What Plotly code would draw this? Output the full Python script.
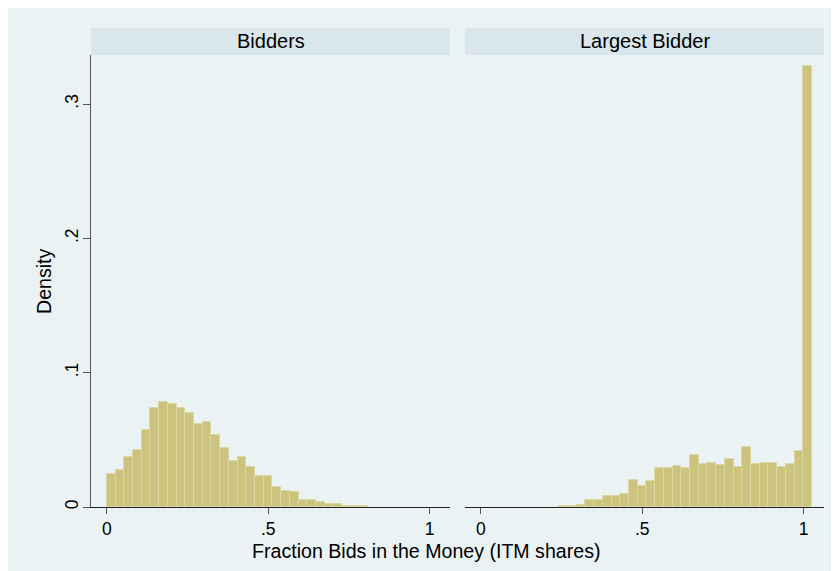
import plotly.graph_objects as go

# ---------------- data ----------------
bin_width = 0.027
bidders = [0.0248, 0.0276, 0.0373, 0.0425, 0.0574, 0.0738, 0.0783, 0.0768, 0.0738, 0.0700,
           0.0615, 0.0633, 0.0536, 0.0440, 0.0345, 0.0372, 0.0300, 0.0231, 0.0231, 0.0149,
           0.0122, 0.0112, 0.0050, 0.0055, 0.0037, 0.0022, 0.0022, 0.0005, 0.0005, 0.0005]
largest = [None, None, None, None, None, None, None, None, None,
           0.0005, 0.0005, 0.0015, 0.0055, 0.0050, 0.0080, 0.0080, 0.0095, 0.0201, 0.0154,
           0.0194, 0.0293, 0.0288, 0.0306, 0.0288, 0.0388, 0.0323, 0.0328, 0.0313, 0.0358,
           0.0298, 0.0447, 0.0323, 0.0330, 0.0330, 0.0300, 0.0323, 0.0417, 0.3280]
panel_titles = ["Bidders", "Largest Bidder"]
x_ticks = [0, 0.5, 1]
x_ticktext = ["0", ".5", "1"]
y_ticks = [0, 0.1, 0.2, 0.3]
y_ticktext = ["0", ".1", ".2", ".3"]
x_title = "Fraction Bids in the Money (ITM shares)"
y_title = "Density"

# ---------------- geometry / style ----------------
# page body has an 8px margin, so the figure sits at (8, 8) in the window
OFF = 8
W, H = 839 - OFF, 571 - OFF
L, R, T, B = 91 - OFF, 15, 55 - OFF, 64
PW, PH = W - L - R, H - T - B


def px_x(p):  # window pixel -> paper x
    return (p - 91) / PW


def px_y(p):  # window pixel -> paper y
    return (507 - p) / PH


FONT = "Liberation Sans, Arial, sans-serif"
BAR_FILL = "#CCC37F"
BAR_LINE = "#DDD7A4"
OUTER = "#EAF2F3"
HEADER = "#D9E6EB"
GRID = "#EAF2F3"

dom1 = [0, px_x(450)]
dom2 = [px_x(465), 1]
xrange_ = [-0.049, 1.063]
yrange_ = [0, 0.3365]

fig = go.Figure()
for series, xa, ya in [(bidders, "x", "y"), (largest, "x2", "y2")]:
    centers = [(k + 0.5) * bin_width for k in range(len(series))]
    fig.add_trace(go.Bar(
        x=centers, y=series, width=[bin_width] * len(series),
        marker=dict(color=BAR_FILL, line=dict(color=BAR_LINE, width=1)),
        xaxis=xa, yaxis=ya, showlegend=False, hoverinfo="skip"))

xcommon = dict(range=xrange_, tickvals=x_ticks, ticktext=x_ticktext, showline=True,
               linecolor="#222222", linewidth=1.2, ticks="outside", ticklen=6,
               tickwidth=1.2, tickcolor="#555555", showgrid=False, zeroline=False,
               tickfont=dict(family=FONT, size=17.5, color="#000000"), fixedrange=True)

fig.update_layout(
    width=W, height=H,
    margin=dict(l=L, r=R, t=T, b=B, pad=0),
    paper_bgcolor="white", plot_bgcolor="white",
    bargap=0,
    xaxis=dict(domain=dom1, anchor="y", **xcommon),
    xaxis2=dict(domain=dom2, anchor="y2", **xcommon),
    yaxis=dict(domain=[0, 1], anchor="x", range=yrange_, tickvals=y_ticks,
               ticktext=y_ticktext, tickangle=-90, showline=True, linecolor="#555555",
               linewidth=1.2, ticks="outside", ticklen=7, tickwidth=1.2,
               tickcolor="#555555", showgrid=True, gridcolor=GRID, gridwidth=1.3,
               zeroline=False, ticklabelstandoff=-2,
               tickfont=dict(family=FONT, size=17.5, color="#000000")),
    yaxis2=dict(domain=[0, 1], anchor="x2", matches="y", range=yrange_, tickvals=y_ticks,
                showticklabels=False, ticks="", showline=False, showgrid=True,
                gridcolor=GRID, gridwidth=1.3, zeroline=False),
)

shapes = [dict(type="rect", xref="paper", yref="paper", layer="below",
               x0=px_x(8), x1=px_x(839), y0=px_y(571), y1=px_y(3),
               fillcolor=OUTER, line=dict(width=0))]
annotations = []
for dom, title in zip([dom1, dom2], panel_titles):
    shapes.append(dict(type="rect", xref="paper", yref="paper", layer="below",
                       x0=dom[0], x1=dom[1], y0=1.0, y1=px_y(28),
                       fillcolor=HEADER, line=dict(width=0)))
    annotations.append(dict(text=title, xref="paper", yref="paper",
                            x=(dom[0] + dom[1]) / 2, y=px_y(41), xanchor="center",
                            yanchor="middle", showarrow=False,
                            font=dict(family=FONT, size=20, color="#000000")))

annotations.append(dict(text=x_title, xref="paper", yref="paper", x=px_x(426),
                        y=px_y(551), xanchor="center", yanchor="middle", showarrow=False,
                        font=dict(family=FONT, size=19.6, color="#000000")))
annotations.append(dict(text=y_title, xref="paper", yref="paper", x=px_x(44),
                        y=0.5, xanchor="center", yanchor="middle", textangle=-90,
                        showarrow=False,
                        font=dict(family=FONT, size=19.6, color="#000000")))

fig.update_layout(shapes=shapes, annotations=annotations)
fig.write_html("out.html")
